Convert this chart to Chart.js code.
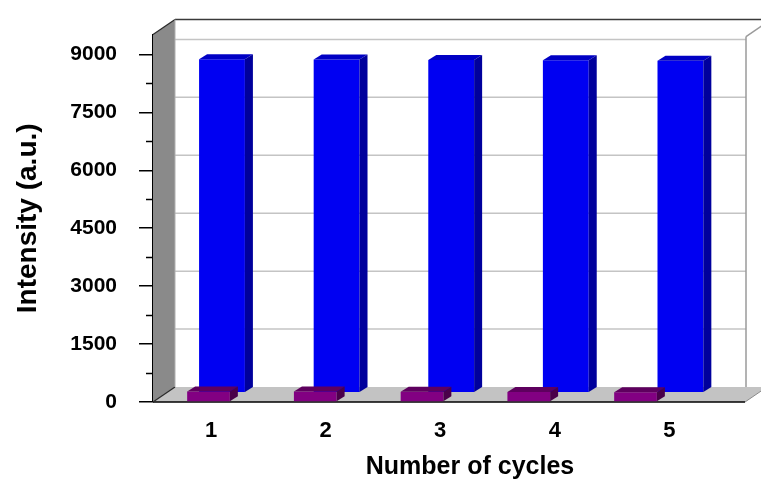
<!DOCTYPE html>
<html><head><meta charset="utf-8">
<script src="https://cdn.jsdelivr.net/npm/chart.js@4/dist/chart.umd.min.js"></script>
<style>html,body{margin:0;padding:0;background:#fff;}#wrap{width:761px;height:484px;position:relative;}</style>
</head><body><div id="wrap"><canvas id="c"></canvas></div>
<script>
// ---- data ----
const cycles = [1, 2, 3, 4, 5];
const cycleLabels = ['1', '2', '3', '4', '5'];
const blueIntensity = [8620, 8610, 8600, 8590, 8580];
const purpleIntensity = [275, 272, 268, 260, 250];
const yTickValues = [0, 1500, 3000, 4500, 6000, 7500, 9000];
const yMinorTickValues = [750, 2250, 3750, 5250, 6750, 8250];

// ---- styles ----
const FONT = "'Liberation Sans', Arial, Helvetica, sans-serif";
const WALL = {dx: 22, dy: -15};
const BAR3D = {dx: 8, dy: -5};
const FRONT_RIGHT = 745;
const X_SPAN_RIGHT = 787;

const scene3d = {
  id: 'scene3d',
  afterLayout(chart) {
    ['x', 'xb'].forEach(id => {
      const s = chart.scales[id];
      s.right = X_SPAN_RIGHT;
      s.width = s.right - s.left;
      s.configure();
    });
  },
  beforeDatasetsDraw(chart) {
    const ctx = chart.ctx, ys = chart.scales.y, a = chart.chartArea;
    const L = a.left, T = a.top, B = a.bottom;
    ctx.save();
    ctx.strokeStyle = '#c4c4c4'; ctx.lineWidth = 1.5;
    yTickValues.slice(1).forEach(v => {
      const py = ys.getPixelForValue(v) + WALL.dy;
      ctx.beginPath(); ctx.moveTo(L + WALL.dx, py); ctx.lineTo(FRONT_RIGHT + 1, py); ctx.stroke();
    });
    ctx.strokeStyle = '#3a3a3a'; ctx.lineWidth = 1.5;
    ctx.beginPath(); ctx.moveTo(L + WALL.dx, T + WALL.dy); ctx.lineTo(chart.width, T + WALL.dy); ctx.stroke();
    ctx.strokeStyle = '#9a9a9a'; ctx.lineWidth = 1.5;
    ctx.beginPath(); ctx.moveTo(FRONT_RIGHT + 1, T + 2); ctx.lineTo(FRONT_RIGHT + 1, B + WALL.dy + 1); ctx.stroke();
    ctx.beginPath(); ctx.moveTo(FRONT_RIGHT + 1, T + 2); ctx.lineTo(FRONT_RIGHT + 1 + WALL.dx, T + 2 + WALL.dy); ctx.stroke();
    ctx.fillStyle = '#c3c3c3';
    ctx.beginPath();
    ctx.moveTo(L, B); ctx.lineTo(FRONT_RIGHT, B);
    ctx.lineTo(FRONT_RIGHT + WALL.dx, B + WALL.dy); ctx.lineTo(L + WALL.dx, B + WALL.dy);
    ctx.closePath(); ctx.fill();
    ctx.strokeStyle = '#8a8a8a'; ctx.lineWidth = 1;
    ctx.beginPath(); ctx.moveTo(FRONT_RIGHT, B); ctx.lineTo(FRONT_RIGHT + WALL.dx, B + WALL.dy); ctx.stroke();
    ctx.strokeStyle = '#000'; ctx.lineWidth = 1.5;
    ctx.beginPath(); ctx.moveTo(L, B); ctx.lineTo(FRONT_RIGHT, B); ctx.stroke();
    ctx.fillStyle = '#8a8a8a';
    ctx.beginPath();
    ctx.moveTo(L, B); ctx.lineTo(L, T); ctx.lineTo(L + WALL.dx, T + WALL.dy); ctx.lineTo(L + WALL.dx, B + WALL.dy);
    ctx.closePath(); ctx.fill();
    ctx.strokeStyle = '#2a2a2a'; ctx.lineWidth = 1.2;
    ctx.beginPath(); ctx.moveTo(L, T); ctx.lineTo(L + WALL.dx, T + WALL.dy); ctx.stroke();
    ctx.beginPath(); ctx.moveTo(L, B); ctx.lineTo(L + WALL.dx, B + WALL.dy); ctx.stroke();
    ctx.strokeStyle = '#b0b0b0'; ctx.lineWidth = 1;
    ctx.beginPath(); ctx.moveTo(L + WALL.dx, T + WALL.dy); ctx.lineTo(L + WALL.dx, B + WALL.dy); ctx.stroke();
    ctx.restore();
  },
  afterDatasetDraw(chart, args) {
    const ctx = chart.ctx;
    const ds = chart.data.datasets[args.index];
    ctx.save();
    args.meta.data.forEach(el => {
      const p = el.getProps(['x', 'y', 'base', 'width'], true);
      const l = p.x - p.width / 2, r = p.x + p.width / 2;
      ctx.fillStyle = ds.topColor;
      ctx.beginPath();
      ctx.moveTo(l, p.y); ctx.lineTo(l + BAR3D.dx, p.y + BAR3D.dy);
      ctx.lineTo(r + BAR3D.dx, p.y + BAR3D.dy); ctx.lineTo(r, p.y); ctx.closePath(); ctx.fill();
      ctx.fillStyle = ds.sideColor;
      ctx.beginPath();
      ctx.moveTo(r, p.y); ctx.lineTo(r + BAR3D.dx, p.y + BAR3D.dy);
      ctx.lineTo(r + BAR3D.dx, p.base + BAR3D.dy); ctx.lineTo(r, p.base); ctx.closePath(); ctx.fill();
    });
    ctx.restore();
  },
  afterDraw(chart) {
    const ctx = chart.ctx, ys = chart.scales.y, L = chart.chartArea.left;
    ctx.save();
    ctx.strokeStyle = '#000'; ctx.lineWidth = 1.5;
    yMinorTickValues.forEach(v => {
      const py = Math.round(ys.getPixelForValue(v)) + 0.5;
      ctx.beginPath(); ctx.moveTo(L - 7, py); ctx.lineTo(L, py); ctx.stroke();
    });
    ctx.restore();
  }
};

const setTicks = vals => s => { s.ticks = vals.map(v => ({value: v})); };

new Chart(document.getElementById('c'), {
  type: 'bar',
  data: {
    datasets: [
      {
        label: 'Series A',
        data: cycles.map((c, i) => ({x: c, y: blueIntensity[i]})),
        xAxisID: 'xb', yAxisID: 'yb', order: 1, grouped: false,
        backgroundColor: '#0000f2', topColor: '#0000c4', sideColor: '#00009c',
        categoryPercentage: 1, barPercentage: 0.4, borderWidth: 0
      },
      {
        label: 'Series B',
        data: cycles.map((c, i) => ({x: c, y: purpleIntensity[i]})),
        xAxisID: 'x', yAxisID: 'y', order: 0, grouped: false,
        backgroundColor: '#820082', topColor: '#5e005e', sideColor: '#4a004a',
        categoryPercentage: 1, barPercentage: 0.4, borderWidth: 0
      }
    ]
  },
  options: {
    responsive: true, maintainAspectRatio: false, animation: false, events: [],
    layout: {padding: {top: 31, right: 0, bottom: 0, left: 0}},
    plugins: {legend: {display: false}, tooltip: {enabled: false}},
    scales: {
      y: {
        type: 'linear', position: 'left', min: 0, max: 9513,
        afterBuildTicks: setTicks(yTickValues),
        afterFit: s => { s.width = 153; },
        ticks: {color: '#000', font: {family: FONT, size: 21, weight: 'bold'}, padding: 22, callback: v => String(v)},
        grid: {display: true, drawOnChartArea: false, drawTicks: true, tickLength: 14, color: '#000', lineWidth: 1.5},
        border: {display: true, color: '#000', width: 1.5},
        title: {display: true, text: 'Intensity (a.u.)', color: '#000', font: {family: FONT, size: 28, weight: 'bold'}, padding: {top: 11, bottom: 0}}
      },
      yb: {type: 'linear', display: false, min: -256, max: 9257},
      x: {
        type: 'linear', display: false, offset: false, min: 0.48, max: 6.419,
        grid: {offset: false},
        afterBuildTicks: setTicks(cycles)
      },
      xb: {
        type: 'linear', position: 'bottom', offset: false, min: 0.398, max: 5.93,
        afterBuildTicks: setTicks(cycles),
        afterFit: s => { s.height = 82; },
        ticks: {color: '#000', font: {family: FONT, size: 22, weight: 'bold'}, padding: 8, labelOffset: -11, maxRotation: 0, autoSkip: false,
                callback: (v, i) => cycleLabels[i]},
        grid: {display: false, offset: false},
        border: {display: false},
        title: {display: true, text: 'Number of cycles', color: '#000', font: {family: FONT, size: 25, weight: 'bold'}, padding: {top: 0, bottom: 2}}
      }
    }
  },
  plugins: [scene3d]
});
</script>
</body></html>
